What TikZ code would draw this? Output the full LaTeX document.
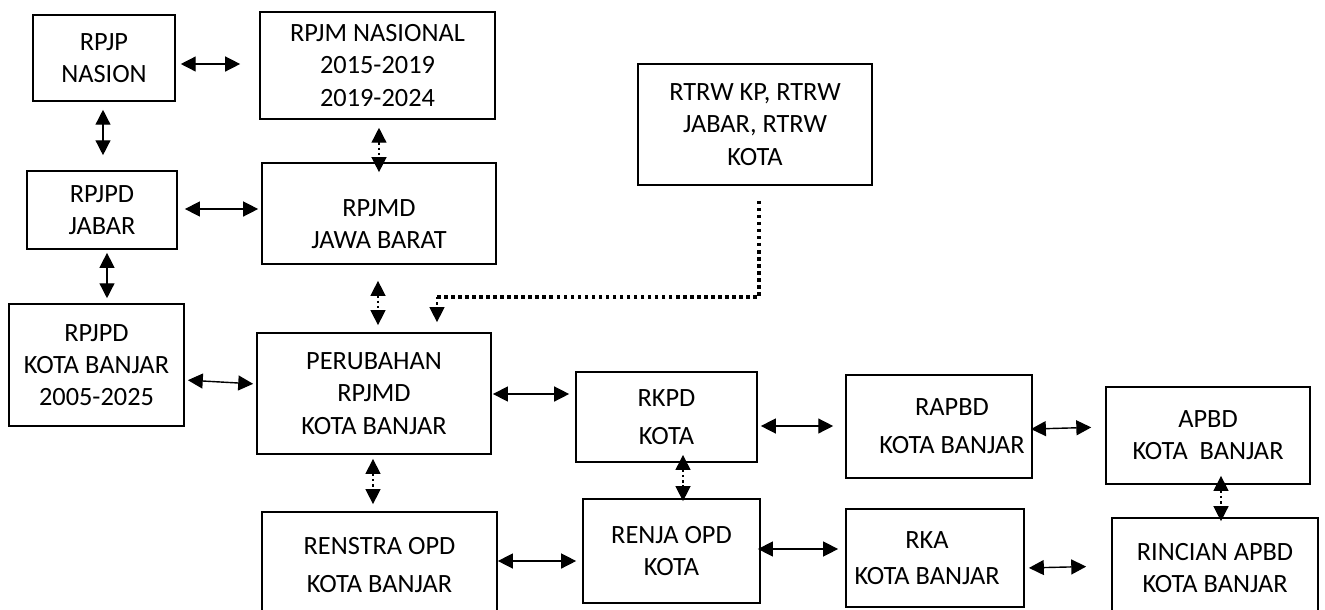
\documentclass[tikz,border=0pt]{standalone}
\usepackage{fontspec}
\setmainfont{Carlito}
\usetikzlibrary{arrows.meta}
\usetikzlibrary{positioning}

\tikzset{
  box/.style={draw, line width=1pt, inner sep=0pt, align=center,
    font=\fontsize{15}{18.3}\selectfont},
  biarrow/.style={{Triangle[length=8.5pt,width=8.5pt]}-{Triangle[length=8.5pt,width=8.5pt]}, line width=0.8pt},
  dotarrow/.style={biarrow, dash pattern=on 1.4pt off 1.6pt},
  thickdot/.style={line width=1.8pt, dash pattern=on 2pt off 2pt},
}

\begin{document}
\begin{tikzpicture}[x=0.02cm, y=-0.02cm]
        \clip (0,0) rectangle (1325,609);
        % Planning documents
        \node[box, minimum width=2.84cm, minimum height=1.72cm] (nasion) at (104,58) {RPJP\\NASION};
        \node[box, minimum width=4.70cm, minimum height=2.14cm] (rpjmnas) at (377.5,65.5) {RPJM NASIONAL\\2015-2019\\2019-2024};
        \node[box, minimum width=4.68cm, minimum height=2.42cm] (rtrw) at (755,124.5) {RTRW KP, RTRW\\JABAR, RTRW\\KOTA};
        \node[box, minimum width=3.00cm, minimum height=1.56cm] (jabar) at (102,210) {RPJPD\\JABAR};
        \node[box, minimum width=4.68cm, minimum height=2.02cm] (rpjmd) at (379,213.5) {\rule{0pt}{22pt}RPJMD\\JAWA BARAT};
        \node[box, minimum width=3.50cm, minimum height=2.44cm] (kotabanjar) at (96.5,365) {RPJPD\\KOTA BANJAR\\2005-2025};
        \node[box, minimum width=4.68cm, minimum height=2.42cm] (perubahan) at (374,393.5) {PERUBAHAN\\RPJMD\\KOTA BANJAR};
        \node[box, minimum width=3.62cm, minimum height=1.80cm] (rkpd) at (666.5,417) {RKPD\\[3pt]KOTA};
        \node[box, minimum width=3.72cm, minimum height=2.06cm] (rapbd) at (939,426.5) {\hspace*{0.52cm}RAPBD\\[3.4pt]\hspace*{0.52cm}KOTA BANJAR};
        \node[box, minimum width=4.08cm, minimum height=1.94cm] (apbd) at (1208,435.5) {APBD\\KOTA\ \ BANJAR};
        \node[box, minimum width=4.70cm, minimum height=2.12cm] (renstra) at (379.5,565) {RENSTRA OPD\\[3.4pt]KOTA BANJAR};
        \node[box, minimum width=3.54cm, minimum height=2.08cm] (renja) at (671.5,551) {RENJA OPD\\KOTA};
        \node[box, minimum width=3.56cm, minimum height=1.96cm] (rka) at (935,558) {RKA\hspace*{0.32cm}\\[2.3pt]KOTA BANJAR\hspace*{0.32cm}};
        \node[box, minimum width=4.12cm, minimum height=2.00cm] (rincian) at (1215,568) {RINCIAN APBD\\KOTA BANJAR};

        % Links
        \draw[biarrow, shorten <=2.8pt, shorten >=10.8pt] (nasion.east |- 0,64) -- (rpjmnas.west |- 0,64);
        \draw[biarrow, shorten <=4.5pt, shorten >=8.5pt] (nasion.south -| 103,0) -- (jabar.north -| 103,0);
        \draw[biarrow, shorten <=4pt, shorten >=1.7pt] (jabar.east |- 0,209) -- (rpjmd.west |- 0,209);
        \draw[dotarrow, shorten <=4.5pt, shorten >=-5.7pt] (rpjmnas.south -| 379,0) -- (rpjmd.north -| 379,0);
        \draw[biarrow, shorten <=1.7pt, shorten >=2.8pt] (jabar.south -| 107,0) -- (kotabanjar.north -| 107,0);
        \draw[dotarrow, shorten <=9.1pt, shorten >=4pt] (rpjmd.south -| 378,0) -- (perubahan.north -| 378,0);
        \draw[biarrow, shorten <=1.7pt, shorten >=1.7pt] (kotabanjar.east |- 0,380) -- (perubahan.west |- 0,384);
        \draw[dotarrow, shorten <=2.3pt, shorten >=4pt] (perubahan.south -| 373,0) -- (renstra.north -| 373,0);
        \draw[biarrow, shorten <=0.6pt, shorten >=3.4pt] (perubahan.east |- 0,394) -- (rkpd.west |- 0,394);
        \draw[biarrow, shorten <=1.7pt, shorten >=6.8pt] (rkpd.east |- 0,426) -- (rapbd.west |- 0,426);
        \draw[dotarrow, shorten <=-4.5pt, shorten >=-1.7pt] (rkpd.south -| 683,0) -- (renja.north -| 683,0);
        \draw[biarrow, shorten <=-1.1pt, shorten >=7.9pt] (rapbd.east |- 0,429) -- (apbd.west |- 0,427);
        \draw[dotarrow, shorten <=-5.1pt, shorten >=-2.3pt] (apbd.south -| 1221,0) -- (rincian.north -| 1221,0);
        \draw[biarrow, shorten >=3.4pt] (renstra.east |- 0,561) -- (renja.west |- 0,561);
        \draw[biarrow, shorten <=-1.7pt, shorten >=4pt] (renja.east |- 0,549) -- (rka.west |- 0,549);
        \draw[biarrow, shorten <=2.3pt, shorten >=14.2pt] (rka.east |- 0,568) -- (rincian.west |- 0,566);

        % RTRW to perubahan
        \coordinate (bend) at (759,297);
        \coordinate (elbow) at (437,297);
        \draw[thickdot, shorten <=8.5pt] (rtrw.south -| bend) -- (bend) -- (elbow);
        \draw[dash pattern=on 1.4pt off 1.6pt, line width=0.8pt, -{Triangle[length=8.5pt,width=8.5pt]}, shorten >=5.7pt] (elbow) -- (elbow |- perubahan.north);
    \end{tikzpicture}
\end{document}
